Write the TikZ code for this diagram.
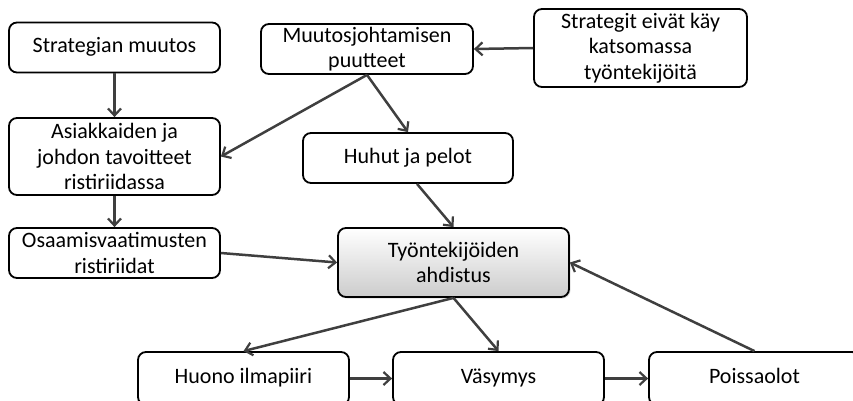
\documentclass[tikz,border=0pt]{standalone}
\usepackage{fontspec}
\setmainfont{Carlito}
\usetikzlibrary{arrows.meta,shadows}
\definecolor{arr}{HTML}{3F3F3F}
\tikzset{
  box/.style={draw=black, line width=1.8pt, rounded corners=8pt, align=center,
    font=\fontsize{22}{25.5}\selectfont, inner sep=0pt},
  one/.style={text height=15pt, text depth=5pt},
  conn/.style={draw=arr, line width=2.5pt, -{Straight Barb[length=7pt,width=13pt,line width=2.2pt]}},
}
\begin{document}
\begin{tikzpicture}[x=1pt,y=-1pt]
\useasboundingbox (0,0) rectangle (853,400);
\clip (0,0) rectangle (853,400);
\node[box, one, minimum width=211pt, minimum height=50pt] (sm) at (114.5,47.5) {Strategian muutos};
\node[box, minimum width=212pt, minimum height=50pt] (mj) at (367,49) {Muutosjohtamisen\\puutteet};
\node[box, minimum width=213pt, minimum height=78pt] (se) at (640.5,48) {Strategit eivät käy\\katsomassa\\työntekijöitä};
\node[box, minimum width=211pt, minimum height=77pt] (aj) at (114.5,156.5) {Asiakkaiden ja\\johdon tavoitteet\\ristiriidassa};
\node[box, one, minimum width=210pt, minimum height=50pt] (hp) at (408,158) {Huhut ja pelot};
\node[box, minimum width=211pt, minimum height=50pt] (ov) at (114.5,253) {Osaamisvaatimusten\\ristiriidat};
\node[box, minimum width=231pt, minimum height=69pt, drop shadow={opacity=0.25,shadow xshift=1.5pt,shadow yshift=-1.5pt},
  top color=white, bottom color=black!20] (ta) at (453.5,262.5) {Työntekijöiden\\ahdistus};
\node[box, one, minimum width=211pt, minimum height=53pt] (hi) at (243.5,378.5) {Huono ilmapiiri};
\node[box, one, minimum width=211pt, minimum height=53pt] (va) at (498.5,378.5) {Väsymys};
\node[box, one, minimum width=211pt, minimum height=53pt] (po) at (754.5,378.5) {Poissaolot};

\draw[conn] (sm.south) -- (aj.north);
\draw[conn] (aj.south) -- (ov.north);
\draw[conn] (se.west) -- (mj.east);
\draw[conn] (mj.south) -- (aj.east);
\draw[conn] (mj.south) -- (hp.north);
\draw[conn] ([xshift=9pt]hp.south) -- (ta.north);
\draw[conn] (ov.east) -- (ta.west);
\draw[conn] (ta.south) -- (hi.north);
\draw[conn] (ta.south) -- (va.north);
\draw[conn] (hi.east) -- (va.west);
\draw[conn] (va.east) -- (po.west);
\draw[conn] (po.north) -- (ta.east);
\end{tikzpicture}
\end{document}
